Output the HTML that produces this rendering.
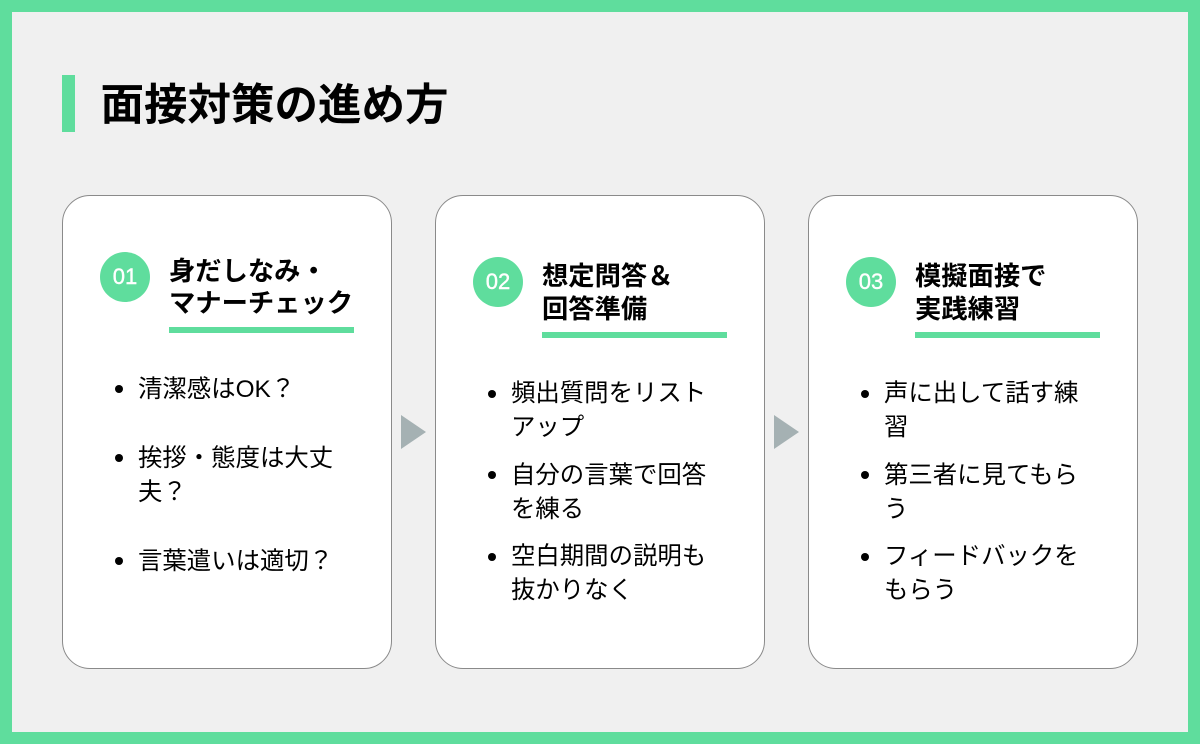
<!DOCTYPE html>
<html lang="ja">
<head>
<meta charset="utf-8">
<style>
html,body{margin:0;padding:0}
body{width:1200px;height:744px;overflow:hidden;position:relative;background:#f0f0f0;font-family:"Liberation Sans","Noto Sans CJK JP",sans-serif;color:#000}
.frame{position:absolute;left:0;top:0;width:1176px;height:720px;border:12px solid #5fdd9d}
.abs{position:absolute}
.t{position:absolute;white-space:nowrap;line-height:1}
.card{position:absolute;top:195px;width:328px;height:472px;background:#fff;border:1px solid #8a8a8a;border-radius:28px}
.num{position:absolute;width:50px;height:50px;border-radius:50%;background:#5fdd9d;color:#fff;font-size:22px;line-height:50px;text-align:center;-webkit-text-stroke:.4px #fff}
.h{font-size:26.3px;font-weight:700;font-family:"Noto Sans CJK JP",sans-serif}
.b{font-size:24.4px;font-family:"Liberation Sans","Noto Sans CJK JP",sans-serif}
.u{position:absolute;width:185px;height:6px;background:#5fdd9d}
.d{position:absolute;width:8px;height:8px;border-radius:50%;background:#000}
.ar{position:absolute;width:0;height:0;border-left:25px solid #a5b1b3;border-top:17px solid transparent;border-bottom:17px solid transparent}
</style>
</head>
<body>
<div class="frame"></div>
<div class="abs" style="left:62px;top:75px;width:13px;height:57px;background:#5fdd9d"></div>
<div class="t" style="left:100.5px;top:80px;font-size:43.5px;font-weight:700;font-family:'Noto Sans CJK JP',sans-serif">面接対策の進め方</div>

<div class="card" style="left:62px"></div>
<div class="card" style="left:435px"></div>
<div class="card" style="left:808px"></div>

<div class="ar" style="left:401px;top:415px"></div>
<div class="ar" style="left:774px;top:415px"></div>

<div class="num" style="left:100px;top:252px">01</div>
<div class="t h" style="left:169px;top:255.5px">身だしなみ・</div>
<div class="t h" style="left:169px;top:288px">マナーチェック</div>
<div class="u" style="left:169px;top:327px"></div>
<div class="d" style="left:114.5px;top:385px"></div>
<div class="t b" style="left:138px;top:378px">清潔感はOK？</div>
<div class="d" style="left:114.5px;top:454px"></div>
<div class="t b" style="left:138px;top:447px">挨拶・態度は大丈</div>
<div class="t b" style="left:138px;top:481px">夫？</div>
<div class="d" style="left:114.5px;top:557px"></div>
<div class="t b" style="left:138px;top:550px">言葉遣いは適切？</div>

<div class="num" style="left:473px;top:257px">02</div>
<div class="t h" style="left:542px;top:260.5px">想定問答＆</div>
<div class="t h" style="left:542px;top:293.5px">回答準備</div>
<div class="u" style="left:542px;top:332px"></div>
<div class="d" style="left:487.5px;top:390px"></div>
<div class="t b" style="left:511px;top:382px">頻出質問をリスト</div>
<div class="t b" style="left:511px;top:416px">アップ</div>
<div class="d" style="left:487.5px;top:471px"></div>
<div class="t b" style="left:511px;top:464px">自分の言葉で回答</div>
<div class="t b" style="left:511px;top:498px">を練る</div>
<div class="d" style="left:487.5px;top:553px"></div>
<div class="t b" style="left:511px;top:545px">空白期間の説明も</div>
<div class="t b" style="left:511px;top:579px">抜かりなく</div>

<div class="num" style="left:846px;top:257px">03</div>
<div class="t h" style="left:915px;top:260.5px">模擬面接で</div>
<div class="t h" style="left:915px;top:293.5px">実践練習</div>
<div class="u" style="left:915px;top:332px"></div>
<div class="d" style="left:860.5px;top:390px"></div>
<div class="t b" style="left:884px;top:382px">声に出して話す練</div>
<div class="t b" style="left:884px;top:416px">習</div>
<div class="d" style="left:860.5px;top:471px"></div>
<div class="t b" style="left:884px;top:464px">第三者に見てもら</div>
<div class="t b" style="left:884px;top:498px">う</div>
<div class="d" style="left:860.5px;top:553px"></div>
<div class="t b" style="left:884px;top:545px">フィードバックを</div>
<div class="t b" style="left:884px;top:579px">もらう</div>
</body>
</html>
